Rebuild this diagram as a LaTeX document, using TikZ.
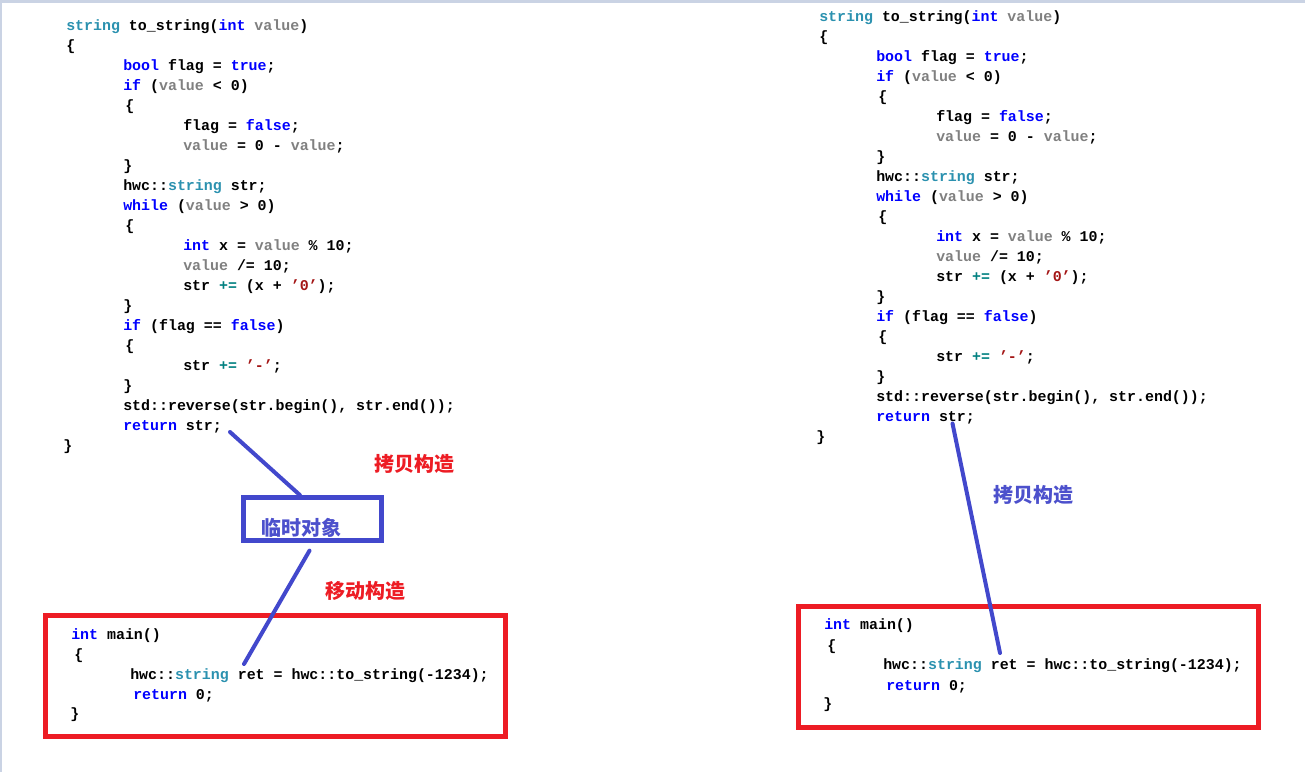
\documentclass[tikz,border=0pt]{standalone}
\usepackage{fontspec}
\setmonofont{Liberation Mono}
\newfontfamily\cjkfont{Noto Sans CJK SC}
\usepackage{xcolor}
\usetikzlibrary{calc}

\definecolor{kwblue}{RGB}{0,0,255}
\definecolor{tyteal}{RGB}{43,145,175}
\definecolor{vargray}{RGB}{128,128,128}
\definecolor{opteal}{RGB}{0,128,128}
\definecolor{litred}{RGB}{163,21,21}
\definecolor{linkblue}{RGB}{66,72,204}
\definecolor{boxred}{RGB}{237,28,36}
\definecolor{barblue}{RGB}{202,211,228}
\definecolor{tagblue}{RGB}{76,80,204}

\newcommand{\kwd}[1]{\textcolor{kwblue}{#1}}
\newcommand{\typ}[1]{\textcolor{tyteal}{#1}}
\newcommand{\vnm}[1]{\textcolor{vargray}{#1}}
\newcommand{\opr}[1]{\textcolor{opteal}{#1}}
\newcommand{\lit}[1]{\textcolor{litred}{#1}}

\begin{document}
\begin{tikzpicture}[x=0.75pt,y=0.75pt,yscale=-1,xscale=1,
  codeline/.style={anchor=base west,inner sep=0pt,font=\fontsize{11.2pt}{13pt}\selectfont\ttfamily\bfseries},
  cnlabel/.style={inner sep=0pt,font=\fontsize{15pt}{18pt}\selectfont\cjkfont\bfseries},
  redbox/.style={draw=boxred,line width=3.6pt,inner sep=0pt,minimum width=344.6pt,minimum height=90.5pt},
  tmpbox/.style={draw=linkblue,line width=3.6pt,inner sep=0pt,minimum width=103.5pt,minimum height=32pt},
  link/.style={draw=linkblue,line width=3pt,line cap=round}]
\useasboundingbox (0,0) rectangle (1305,772);

%Shape: Window edge
\fill [barblue] (0,0) rectangle (1305,3);
\fill [barblue] (0,0) rectangle (2,772);

% Text Node: left to_string
\node (l1) [codeline] at (66,30) {\typ{string} to\_string(\kwd{int} \vnm{value})};
\node (l2) [codeline] at (66,50) {\{};
\node (l3) [codeline] at (123,70) {\kwd{bool} flag = \kwd{true};};
\node (l4) [codeline] at (123,90) {\kwd{if} (\vnm{value} < 0)};
\node (l5) [codeline] at (125,110) {\{};
\node (l6) [codeline] at (183,130) {flag = \kwd{false};};
\node (l7) [codeline] at (183,150) {\vnm{value} = 0 - \vnm{value};};
\node (l8) [codeline] at (123,170) {\}};
\node (l9) [codeline] at (123,190) {hwc::\typ{string} str;};
\node (l10) [codeline] at (123,210) {\kwd{while} (\vnm{value} > 0)};
\node (l11) [codeline] at (125,230) {\{};
\node (l12) [codeline] at (183,250) {\kwd{int} x = \vnm{value} \% 10;};
\node (l13) [codeline] at (183,270) {\vnm{value} /= 10;};
\node (l14) [codeline] at (183,290) {str \opr{+=} (x + \lit{’0’});};
\node (l15) [codeline] at (123,310) {\}};
\node (l16) [codeline] at (123,330) {\kwd{if} (flag == \kwd{false})};
\node (l17) [codeline] at (125,350) {\{};
\node (l18) [codeline] at (183,370) {str \opr{+=} \lit{’-’};};
\node (l19) [codeline] at (123,390) {\}};
\node (l20) [codeline] at (123,410) {std::reverse(str.begin(), str.end());};
\node (lret) [codeline] at (123,430) {\kwd{return} str;};
\node (l22) [codeline] at (63,450) {\}};

% Text Node: right to_string
\node (r1) [codeline] at (819,21) {\typ{string} to\_string(\kwd{int} \vnm{value})};
\node (r2) [codeline] at (819,41) {\{};
\node (r3) [codeline] at (876,61) {\kwd{bool} flag = \kwd{true};};
\node (r4) [codeline] at (876,81) {\kwd{if} (\vnm{value} < 0)};
\node (r5) [codeline] at (878,101) {\{};
\node (r6) [codeline] at (936,121) {flag = \kwd{false};};
\node (r7) [codeline] at (936,141) {\vnm{value} = 0 - \vnm{value};};
\node (r8) [codeline] at (876,161) {\}};
\node (r9) [codeline] at (876,181) {hwc::\typ{string} str;};
\node (r10) [codeline] at (876,201) {\kwd{while} (\vnm{value} > 0)};
\node (r11) [codeline] at (878,221) {\{};
\node (r12) [codeline] at (936,241) {\kwd{int} x = \vnm{value} \% 10;};
\node (r13) [codeline] at (936,261) {\vnm{value} /= 10;};
\node (r14) [codeline] at (936,281) {str \opr{+=} (x + \lit{’0’});};
\node (r15) [codeline] at (876,301) {\}};
\node (r16) [codeline] at (876,321) {\kwd{if} (flag == \kwd{false})};
\node (r17) [codeline] at (878,341) {\{};
\node (r18) [codeline] at (936,361) {str \opr{+=} \lit{’-’};};
\node (r19) [codeline] at (876,381) {\}};
\node (r20) [codeline] at (876,401) {std::reverse(str.begin(), str.end());};
\node (rret) [codeline] at (876,421) {\kwd{return} str;};
\node (r22) [codeline] at (816,441) {\}};

%Shape: Rectangle (left main)
\node (lmain) [redbox] at (275.5,676.2) {};
%Shape: Rectangle (right main)
\node (rmain) [redbox] at (1028.4,666.9) {};
%Shape: Rectangle (temporary object)
\node (tmp) [tmpbox] at (312.5,518.9) {};

% Text Node: left main
\node (lm1) [codeline] at (71,639) {\kwd{int} main()};
\node (lm2) [codeline] at (74,659) {\{};
\node (lcall) [codeline] at (130,679) {hwc::\typ{string} ret = hwc::to\_string(-1234);};
\node (lm4) [codeline] at (133,699) {\kwd{return} 0;};
\node (lm5) [codeline] at (70,718) {\}};

% Text Node: right main
\node (rm1) [codeline] at (824,629.5) {\kwd{int} main()};
\node (rm2) [codeline] at (827,650) {\{};
\node (rcall) [codeline] at (883,669.5) {hwc::\typ{string} ret = hwc::to\_string(-1234);};
\node (rm4) [codeline] at (886,690) {\kwd{return} 0;};
\node (rm5) [codeline] at (823,708.5) {\}};

% Text Node: labels
\node (tmptxt) [cnlabel,text=tagblue] at (301,527.5) {临时对象};
\node (lcopy) [cnlabel,text=boxred] at (414,464) {拷贝构造};
\node (lmove) [cnlabel,text=boxred] at (365,591) {移动构造};
\node (rcopy) [cnlabel,text=tagblue] at (1033,494.5) {拷贝构造};

%Straight Lines
\coordinate (lstr) at (230,432);
\coordinate (lret2) at (244,664);
\coordinate (rstr) at (952.5,423.5);
\coordinate (rret2) at (1000,653);
\draw [link] (lstr) -- ($(tmp.north)+(-12.5,0)$);
\draw [link] ($(tmp.south)+(-3,8)$) -- (lret2);
\draw [link] (rstr) -- (rret2);

\end{tikzpicture}
\end{document}
